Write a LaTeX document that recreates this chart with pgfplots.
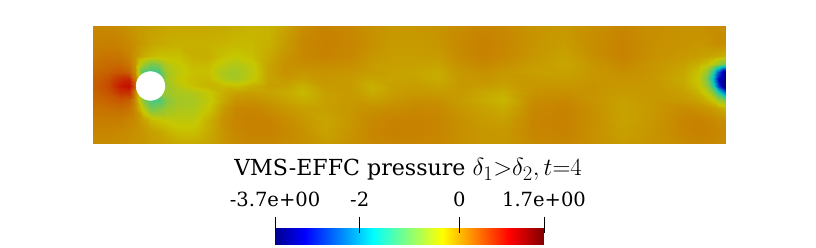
\documentclass[border=0pt]{standalone}
\usepackage{fontspec}
\setmainfont{DejaVu Serif}
\usepackage{pgfplots}
\pgfplotsset{compat=1.18}
\pgfplotsset{colormap={barjet}{rgb255(0pt)=(0,0,143) rgb255(111pt)=(0,0,255) rgb255(365pt)=(0,255,255) rgb255(490pt)=(128,255,128) rgb255(620pt)=(255,255,0) rgb255(746pt)=(255,128,0) rgb255(873pt)=(255,0,0) rgb255(1000pt)=(128,0,0)}}
\pgfplotsset{colormap={fieldjet}{rgb255(0pt)=(0,0,112) rgb255(111pt)=(0,0,199) rgb255(365pt)=(0,199,199) rgb255(490pt)=(100,199,100) rgb255(620pt)=(199,199,0) rgb255(746pt)=(199,100,0) rgb255(873pt)=(199,0,0) rgb255(1000pt)=(100,0,0)}}
\begin{document}
\begin{tikzpicture}
\path[use as bounding box] (0,0) rectangle (816bp,248bp);
\begin{axis}[
  at={(93bp,104bp)},anchor=south west,scale only axis,width=632bp,height=118bp,
  xmin=0,xmax=632,ymin=0,ymax=118,hide axis,view={0}{90},
  colormap name=fieldjet,point meta min=-3.7,point meta max=1.7]
\addplot3[surf,shader=interp,mesh/rows=13] coordinates {
(0,0,.06)(15,0,.05)(28,0,.03)(36,0,.02)(42,0,0)(50,0,-.02)(58,0,-.05)(66,0,-.08)(74,0,-.1)(85,0,-.15)(100,0,-.15)(115,0,-.1)(130,0,-.02)(142,0,.05)(158,0,.08)(175,0,.08)(192,0,.05)(209,0,.02)(232,0,-.05)(258,0,.02)(279,0,.08)(300,0,.1)(322,0,.1)(345,0,.08)(367,0,.02)(390,0,-.02)(410,0,-.02)(440,0,.06)(472,0,.08)(500,0,.02)(530,0,-.05)(560,0,0)(590,0,.06)(605,0,.08)(614,0,.08)(620,0,.08)(625,0,.06)(632,0,.06)
(0,12,.1)(15,12,.1)(28,12,.08)(36,12,.05)(42,12,.02)(50,12,-.02)(58,12,-.08)(66,12,-.12)(74,12,-.2)(85,12,-.28)(100,12,-.3)(115,12,-.15)(130,12,0)(142,12,.08)(158,12,.12)(175,12,.12)(192,12,.08)(209,12,.02)(232,12,-.1)(258,12,0)(279,12,.1)(300,12,.13)(322,12,.12)(345,12,.1)(367,12,.03)(390,12,-.02)(410,12,-.03)(440,12,.1)(472,12,.12)(500,12,.02)(530,12,-.08)(560,12,0)(590,12,.1)(605,12,.13)(614,12,.12)(620,12,.1)(625,12,.08)(632,12,.08)
(0,24,.15)(15,24,.16)(28,24,.15)(36,24,.1)(42,24,.05)(50,24,-.08)(58,24,-.25)(66,24,-.32)(74,24,-.38)(85,24,-.42)(100,24,-.42)(115,24,-.2)(130,24,.02)(142,24,.1)(158,24,.13)(175,24,.12)(192,24,.05)(209,24,-.02)(232,24,-.12)(258,24,-.02)(279,24,.08)(300,24,.12)(322,24,.12)(345,24,.1)(367,24,.02)(390,24,-.05)(410,24,-.08)(440,24,.1)(472,24,.13)(500,24,.03)(530,24,-.1)(560,24,-.02)(590,24,.1)(605,24,.12)(614,24,.1)(620,24,.08)(625,24,.05)(632,24,.03)
(0,36,.22)(15,36,.25)(28,36,.28)(36,36,.22)(42,36,.05)(50,36,-.45)(58,36,-.95)(66,36,-.85)(74,36,-.65)(85,36,-.55)(100,36,-.55)(115,36,-.35)(130,36,-.05)(142,36,.08)(158,36,.1)(175,36,.05)(192,36,-.02)(209,36,-.08)(232,36,-.08)(258,36,-.02)(279,36,.02)(300,36,.05)(322,36,.08)(345,36,.06)(367,36,-.02)(390,36,-.1)(410,36,-.16)(440,36,.08)(472,36,.12)(500,36,.02)(530,36,-.1)(560,36,-.03)(590,36,.05)(605,36,.02)(614,36,-.02)(620,36,-.06)(625,36,-.12)(632,36,-.2)
(0,44,.28)(15,44,.35)(28,44,.42)(36,44,.35)(42,44,.05)(50,44,-.8)(58,44,-1.25)(66,44,-1.25)(74,44,-.8)(85,44,-.6)(100,44,-.58)(115,44,-.42)(130,44,-.15)(142,44,0)(158,44,.02)(175,44,-.03)(192,44,-.1)(209,44,-.18)(232,44,-.08)(258,44,-.04)(279,44,-.08)(300,44,-.02)(322,44,.03)(345,44,.02)(367,44,-.05)(390,44,-.15)(410,44,-.24)(440,44,.05)(472,44,.08)(500,44,0)(530,44,-.08)(560,44,-.03)(590,44,-.04)(605,44,-.1)(614,44,-.22)(620,44,-.35)(625,44,-.6)(632,44,-.9)
(0,52,.32)(15,52,.45)(28,52,.7)(36,52,.7)(42,52,.1)(50,52,-.5)(58,52,-.8)(66,52,-.8)(74,52,-.65)(85,52,-.55)(100,52,-.5)(115,52,-.38)(130,52,-.2)(142,52,-.1)(158,52,-.08)(175,52,-.1)(192,52,-.15)(209,52,-.25)(232,52,-.08)(258,52,-.05)(279,52,-.16)(300,52,-.07)(322,52,-.04)(345,52,-.05)(367,52,-.04)(390,52,-.12)(410,52,-.18)(440,52,0)(472,52,.03)(500,52,0)(530,52,-.05)(560,52,-.03)(590,52,-.08)(605,52,-.22)(614,52,-.45)(620,52,-.85)(625,52,-1.5)(632,52,-2.4)
(0,58,.35)(15,58,.5)(28,58,.85)(36,58,.95)(42,58,.4)(50,58,0)(58,58,-.3)(66,58,-.6)(74,58,-.65)(85,58,-.45)(100,58,-.3)(115,58,-.22)(130,58,-.25)(142,58,-.28)(158,58,-.18)(175,58,-.08)(192,58,-.08)(209,58,-.2)(232,58,-.05)(258,58,-.05)(279,58,-.2)(300,58,-.08)(322,58,-.06)(345,58,-.1)(367,58,-.03)(390,58,-.05)(410,58,-.1)(440,58,-.02)(472,58,-.02)(500,58,0)(530,58,-.03)(560,58,-.03)(590,58,-.12)(605,58,-.3)(614,58,-.7)(620,58,-1.4)(625,58,-2.6)(632,58,-3.7)
(0,65,.32)(15,65,.45)(28,65,.7)(36,65,.75)(42,65,.2)(50,65,-1)(58,65,-1.2)(66,65,-1.1)(74,65,-.6)(85,65,-.38)(100,65,-.28)(115,65,-.25)(130,65,-.5)(142,65,-.58)(158,65,-.4)(175,65,-.1)(192,65,-.03)(209,65,-.08)(232,65,-.02)(258,65,-.05)(279,65,-.12)(300,65,-.1)(322,65,-.1)(345,65,-.16)(367,65,-.03)(390,65,-.01)(410,65,-.05)(440,65,-.04)(472,65,-.06)(500,65,-.01)(530,65,0)(560,65,-.03)(590,65,-.15)(605,65,-.35)(614,65,-.9)(620,65,-1.8)(625,65,-3)(632,65,-3.7)
(0,72,.28)(15,72,.35)(28,72,.42)(36,72,.35)(42,72,.05)(50,72,-1.2)(58,72,-1.35)(66,72,-1.25)(74,72,-.6)(85,72,-.42)(100,72,-.3)(115,72,-.3)(130,72,-.55)(142,72,-.62)(158,72,-.45)(175,72,-.1)(192,72,.02)(209,72,-.02)(232,72,0)(258,72,-.02)(279,72,-.06)(300,72,-.1)(322,72,-.12)(345,72,-.15)(367,72,-.02)(390,72,.02)(410,72,-.03)(440,72,-.08)(472,72,-.1)(500,72,-.02)(530,72,.03)(560,72,-.02)(590,72,-.12)(605,72,-.3)(614,72,-.7)(620,72,-1.4)(625,72,-2.5)(632,72,-3.6)
(0,80,.22)(15,80,.28)(28,80,.28)(36,80,.2)(42,80,0)(50,80,-.6)(58,80,-.9)(66,80,-.8)(74,80,-.5)(85,80,-.38)(100,80,-.25)(115,80,-.25)(130,80,-.42)(142,80,-.52)(158,80,-.4)(175,80,-.12)(192,80,.02)(209,80,.05)(232,80,.06)(258,80,.03)(279,80,-.05)(300,80,-.08)(322,80,-.08)(345,80,-.1)(367,80,.02)(390,80,.08)(410,80,.03)(440,80,-.05)(472,80,-.12)(500,80,-.01)(530,80,.08)(560,80,-.01)(590,80,-.08)(605,80,-.18)(614,80,-.3)(620,80,-.45)(625,80,-.7)(632,80,-1)
(0,88,.18)(15,88,.22)(28,88,.2)(36,88,.12)(42,88,0)(50,88,-.15)(58,88,-.25)(66,88,-.3)(74,88,-.3)(85,88,-.3)(100,88,-.18)(115,88,-.18)(130,88,-.3)(142,88,-.36)(158,88,-.3)(175,88,-.15)(192,88,0)(209,88,.08)(232,88,.12)(258,88,.08)(279,88,-.02)(300,88,-.06)(322,88,-.06)(345,88,-.05)(367,88,.06)(390,88,.12)(410,88,.08)(440,88,-.02)(472,88,-.1)(500,88,.03)(530,88,.12)(560,88,.02)(590,88,-.03)(605,88,-.06)(614,88,-.1)(620,88,-.12)(625,88,-.15)(632,88,-.2)
(0,100,.12)(15,100,.14)(28,100,.12)(36,100,.08)(42,100,.02)(50,100,-.05)(58,100,-.12)(66,100,-.15)(74,100,-.18)(85,100,-.2)(100,100,-.2)(115,100,-.2)(130,100,-.22)(142,100,-.25)(158,100,-.25)(175,100,-.2)(192,100,-.05)(209,100,.08)(232,100,.13)(258,100,.1)(279,100,.02)(300,100,-.05)(322,100,-.05)(345,100,-.02)(367,100,.08)(390,100,.13)(410,100,.1)(440,100,0)(472,100,-.06)(500,100,.05)(530,100,.12)(560,100,.03)(590,100,0)(605,100,-.02)(614,100,0)(620,100,.03)(625,100,.05)(632,100,.05)
(0,118,.08)(15,118,.08)(28,118,.05)(36,118,0)(42,118,-.03)(50,118,-.05)(58,118,-.08)(66,118,-.1)(74,118,-.12)(85,118,-.12)(100,118,-.12)(115,118,-.13)(130,118,-.15)(142,118,-.18)(158,118,-.22)(175,118,-.22)(192,118,-.1)(209,118,.05)(232,118,.12)(258,118,.08)(279,118,.02)(300,118,-.02)(322,118,-.02)(345,118,0)(367,118,.05)(390,118,.1)(410,118,.08)(440,118,0)(472,118,-.03)(500,118,.03)(530,118,.1)(560,118,.04)(590,118,.02)(605,118,.02)(614,118,.04)(620,118,.05)(625,118,.05)(632,118,.05)
};
\addplot3[only marks,mark=*,mark size=14.4bp,mark options={fill=white,draw=white},forget plot] coordinates {(57.5,58,0)};
\end{axis}
\begin{axis}[
  at={(275bp,3.7bp)},anchor=south west,scale only axis,width=269bp,height=27.6bp,
  xmin=-3.7,xmax=1.7,ymin=0,ymax=27.6,view={0}{90},
  colormap name=barjet,point meta min=-3.7,point meta max=1.7,
  axis line style={draw=none},axis on top,
  xtick={-3.7,-2,0,1.7},xticklabels={-3.7e+00,-2,0,1.7e+00},
  ytick=\empty,xtick pos=upper,xticklabel pos=upper,tick align=inside,
  major tick length=16.6bp,tick style={black,line width=0.8bp},
  xticklabel style={anchor=base,yshift=10.7bp,font=\fontsize{19.6}{23}\selectfont}]
\addplot3[surf,shader=interp,mesh/rows=2] coordinates {
(-3.7,0,-3.7)(-3.1,0,-3.1)(-1.73,0,-1.73)(-1.05,0,-1.05)(-.35,0,-.35)(.33,0,.33)(1,0,1)(1.7,0,1.7)
(-3.7,16,-3.7)(-3.1,16,-3.1)(-1.73,16,-1.73)(-1.05,16,-1.05)(-.35,16,-.35)(.33,16,.33)(1,16,1)(1.7,16,1.7)
};
\end{axis}
\node[anchor=base,inner sep=0pt,font=\fontsize{22.2}{26}\selectfont] at (408bp,72bp) {VMS-EFFC pressure {\fontsize{24.88}{28}\selectfont $\delta_1{>}\delta_2,t{=}4$}};
\end{tikzpicture}
\end{document}
